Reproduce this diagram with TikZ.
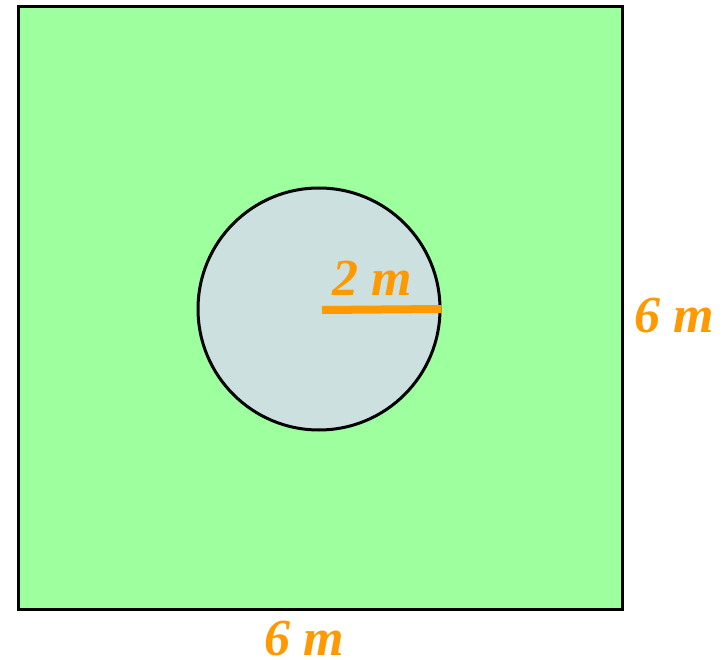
\documentclass[tikz,border=0pt]{standalone}
\usepackage{fontspec}
\setmainfont{Liberation Serif}
\usepackage{tikz}
\usetikzlibrary{positioning}
\definecolor{field}{HTML}{9EFF9E}
\definecolor{pond}{HTML}{CCE0DF}
\definecolor{dim}{HTML}{FF9900}

\begin{document}
\begin{tikzpicture}[
      x=1pt,y=-1pt,
      lbl/.style={anchor=base,inner sep=0pt,text=dim,font=\fontsize{52}{60}\selectfont\bfseries\itshape},
      edge/.style={draw=black,line width=3pt}
    ]
      \useasboundingbox (0,0) rectangle (726,660);
      \draw[edge,fill=field] (18,7) rectangle (622,609);
      \node[circle,edge,fill=pond,minimum size=242pt,inner sep=0pt] (pond) at (319,309) {};
      \coordinate (centre) at (322,310);
      \draw[dim,line width=8pt] (centre) -- (pond.east);

      \node[lbl] (radius) at (372,296) {2 m};
      \node[lbl] (side) at (674,333) {6 m};
      \node[lbl] (base) at (304,655) {6 m};
    \end{tikzpicture}
\end{document}
